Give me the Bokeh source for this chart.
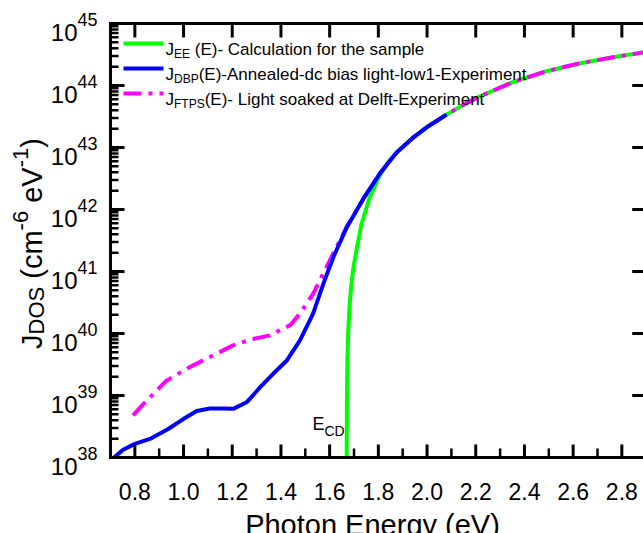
import math
from bokeh.plotting import figure
from bokeh.models import Range1d, Label
from bokeh.embed import file_html
from bokeh.resources import INLINE

# ---------------- data, y values are log10(J_DOS) ----------------
# J_EE(E) - calculation
ee_E = [1.670, 1.671, 1.673, 1.676, 1.681, 1.688, 1.697, 1.710, 1.731, 1.765, 1.806,
        1.840, 1.875, 1.940, 2.000, 2.080, 2.150, 2.220, 2.350, 2.490, 2.630, 2.770, 2.900]
ee_logJ = [38.0, 39.0, 39.6, 40.0, 40.4, 40.75, 41.05, 41.34, 41.77, 42.20, 42.55,
           42.76, 42.92, 43.15, 43.33, 43.53, 43.69, 43.83, 44.05, 44.23, 44.36, 44.46, 44.54]

# J_DBP(E) - annealed, dc bias light low1 experiment
dbp_E = [0.715, 0.750, 0.800, 0.862, 0.937, 0.999, 1.054, 1.108, 1.160, 1.204, 1.259,
         1.314, 1.368, 1.423, 1.478, 1.532, 1.574, 1.615, 1.670, 1.738, 1.806, 1.875,
         1.940, 2.000, 2.080]
dbp_logJ = [38.0, 38.12, 38.22, 38.30, 38.46, 38.62, 38.75, 38.79, 38.79, 38.785, 38.89,
            39.13, 39.35, 39.56, 39.89, 40.32, 40.80, 41.23, 41.71, 42.17, 42.58, 42.92,
            43.15, 43.33, 43.53]

# J_FTPS(E) - light soaked at Delft experiment
ftps_E = [0.793, 0.830, 0.862, 0.930, 1.026, 1.108, 1.204, 1.272, 1.355, 1.409, 1.437,
          1.478, 1.532, 1.587, 1.615, 1.670, 1.738, 1.806, 1.875, 1.940, 2.000, 2.080,
          2.150, 2.220, 2.350, 2.490, 2.630, 2.770, 2.900]
ftps_logJ = [38.68, 38.84, 38.97, 39.24, 39.46, 39.62, 39.81, 39.90, 39.97, 40.08, 40.13,
             40.32, 40.64, 41.07, 41.29, 41.72, 42.17, 42.58, 42.92, 43.15, 43.33, 43.53,
             43.69, 43.83, 44.05, 44.23, 44.36, 44.46, 44.54]

y_decades = [38, 39, 40, 41, 42, 43, 44, 45]
x_major = [0.8, 1.0, 1.2, 1.4, 1.6, 1.8, 2.0, 2.2, 2.4, 2.6, 2.8]
x_minor = [0.9, 1.1, 1.3, 1.5, 1.7, 1.9, 2.1, 2.3, 2.5, 2.7]
x_tick_labels = ["0.8", "1.0", "1.2", "1.4", "1.6", "1.8", "2.0", "2.2", "2.4", "2.6", "2.8"]
y_minor = [d + math.log10(m) for d in y_decades[:-1] for m in range(2, 10)]

FONT = "Liberation Sans"
WIDTH, HEIGHT = 643, 533
X0, XR = 0.7, 2.9               # axis limits (right edge lies just outside the picture)
Y0, Y1 = y_decades[0], y_decades[-1]
FL, FT, FB = 110, 23, 457       # frame left/top/bottom in picture pixels
SX = 243.5                      # pixels per eV
SY = (FB - FT) / float(Y1 - Y0) # pixels per decade

p = figure(width=WIDTH, height=HEIGHT,
           x_range=Range1d(X0 - FL / SX, X0 + (WIDTH - FL) / SX),
           y_range=Range1d(Y0 - (HEIGHT - FB) / SY, Y1 + FT / SY),
           output_backend="svg", toolbar_location=None, title=None,
           x_axis_location=None, y_axis_location=None,
           min_border_left=0, min_border_right=0, min_border_top=0, min_border_bottom=0)
p.grid.visible = False
p.outline_line_color = None
p.background_fill_color = "white"
p.border_fill_color = "white"

GREEN, BLUE, MAGENTA = "#00ff00", "#0000ff", "#ff00ff"
DASH = "18 7 4 7"

p.line(ee_E, ee_logJ, line_color=GREEN, line_width=4)
p.line(ftps_E, ftps_logJ, line_color=MAGENTA, line_width=4, line_dash=DASH)
p.line(dbp_E, dbp_logJ, line_color=BLUE, line_width=4)

# ---- frame (left, bottom, top) and inward ticks, from the tick lists, as thin filled bars ----
def hx(w):
    return w / 2.0 / SX
def hy(w):
    return w / 2.0 / SY

L, R, B, T = [], [], [], []
def bar(l, r, b, t):
    L.append(l); R.append(r); B.append(b); T.append(t)

bar(X0 - hx(3), X0 + hx(3), Y0 - hy(3), Y1 + hy(3))          # left frame line
bar(X0 - hx(3), XR, Y0 - hy(3), Y0 + hy(3))                  # bottom frame line
bar(X0 - hx(3), XR, Y1 - hy(3), Y1 + hy(3))                  # top frame line
for d in y_decades:
    bar(X0, X0 + 14 / SX, d - hy(3), d + hy(3))               # left major
    bar(XR - 14 / SX, XR, d - hy(3), d + hy(3))               # right major
for d in y_minor:
    bar(X0, X0 + 8 / SX, d - hy(2.5), d + hy(2.5))            # left minor
for v in x_major:
    bar(v - hx(3), v + hx(3), Y0, Y0 + 13 / SY)               # bottom major
    bar(v - hx(3), v + hx(3), Y1 - 14 / SY, Y1)               # top major
for v in x_minor:
    bar(v - hx(2.5), v + hx(2.5), Y0, Y0 + 9 / SY)            # bottom minor
p.quad(left=L, right=R, bottom=B, top=T, fill_color="black", line_color=None)

def dx(px):
    return X0 + (px - FL) / SX
def dy(py):
    return Y0 + (FB - py) / SY

W = {' ': 278, '(': 333, ')': 333, '-': 333, '.': 278}
for c in "0123456789":
    W[c] = 556
W.update(dict(A=667, B=667, C=722, D=722, E=667, F=611, G=778, H=722, I=278, J=500, K=667,
              L=556, M=833, N=722, O=778, P=667, Q=778, R=722, S=667, T=611, U=722, V=667,
              W=944, X=667, Y=667, Z=611, a=556, b=556, c=500, d=556, e=556, f=278, g=556,
              h=556, i=222, j=222, k=500, l=222, m=833, n=556, o=556, p=556, q=556, r=333,
              s=500, t=278, u=556, v=500, w=722, x=500, y=500, z=500))
def tw(s, size):
    return sum(W.get(c, 556) for c in s) * size / 1000.0

def lab(text, x, y, size, angle=0.0, align="left"):
    p.add_layout(Label(x=x, y=y, text=text, text_font=FONT,
                       text_font_size=f"{size}px", text_color="black",
                       text_align=align, text_baseline="alphabetic", angle=angle))

# x tick labels and axis title
for v, t in zip(x_major, x_tick_labels):
    lab(t, v, dy(491), 23, align="center")
lab("Photon Energy (eV)", dx(372), dy(524), 29, align="center")

# y tick labels: 10 with superscript exponent
for d in y_decades:
    py = FB - (d - Y0) * SY
    sup = str(d)
    right = 97.0
    lab(sup, dx(right - tw(sup, 18)), dy(py - 4), 18)
    lab("10", dx(right - tw(sup, 18) - tw("10", 24)), dy(py + 8.5), 24)

# rotated y-axis title: J_DOS (cm^-6 eV^-1)
F, S = 29, 22
bx = 31.0
pieces = [("J", F, 0), ("DOS", S, 5), (" ", F, None), ("(cm", F, 0), ("-6", S, -11),
          (" ", F, None), ("eV", F, 0), ("-1", S, -11), (")", F, 0)]
total = sum(tw(t, s) for t, s, _ in pieces)
cy = 243.0 + total / 2.0
for t, s, sh in pieces:
    if sh is not None:
        lab(t, dx(bx + sh), dy(cy), s, angle=math.pi / 2)
    cy -= tw(t, s)

# legend: key lines and texts with subscripts
rows = [(GREEN, None, "EE", True, "(E)- Calculation for the sample", 43),
        (BLUE, None, "DBP", False, "(E)-Annealed-dc bias light-low1-Experiment", 68),
        (MAGENTA, DASH, "FTPS", False, "(E)- Light soaked at Delft-Experiment", 93)]
for color, dash, sub, space, rest, mid in rows:
    kw = dict(line_dash=dash) if dash else {}
    p.line([dx(123), dx(163)], [dy(mid), dy(mid)], line_color=color, line_width=4, **kw)
    base = mid + 6
    x = 165.0
    lab("J", dx(x), dy(base), 17)
    x += tw("J", 17)
    lab(sub, dx(x), dy(base + 4), 12)
    x += tw(sub, 12)
    if space:
        x += tw(" ", 17)
    lab(rest, dx(x), dy(base), 17)

# E_CD annotation
lab("E", dx(312), dy(423), 18)
lab("CD", dx(312 + tw("E", 18)), dy(430), 14)

open("out.html", "w").write(file_html(p, INLINE))
